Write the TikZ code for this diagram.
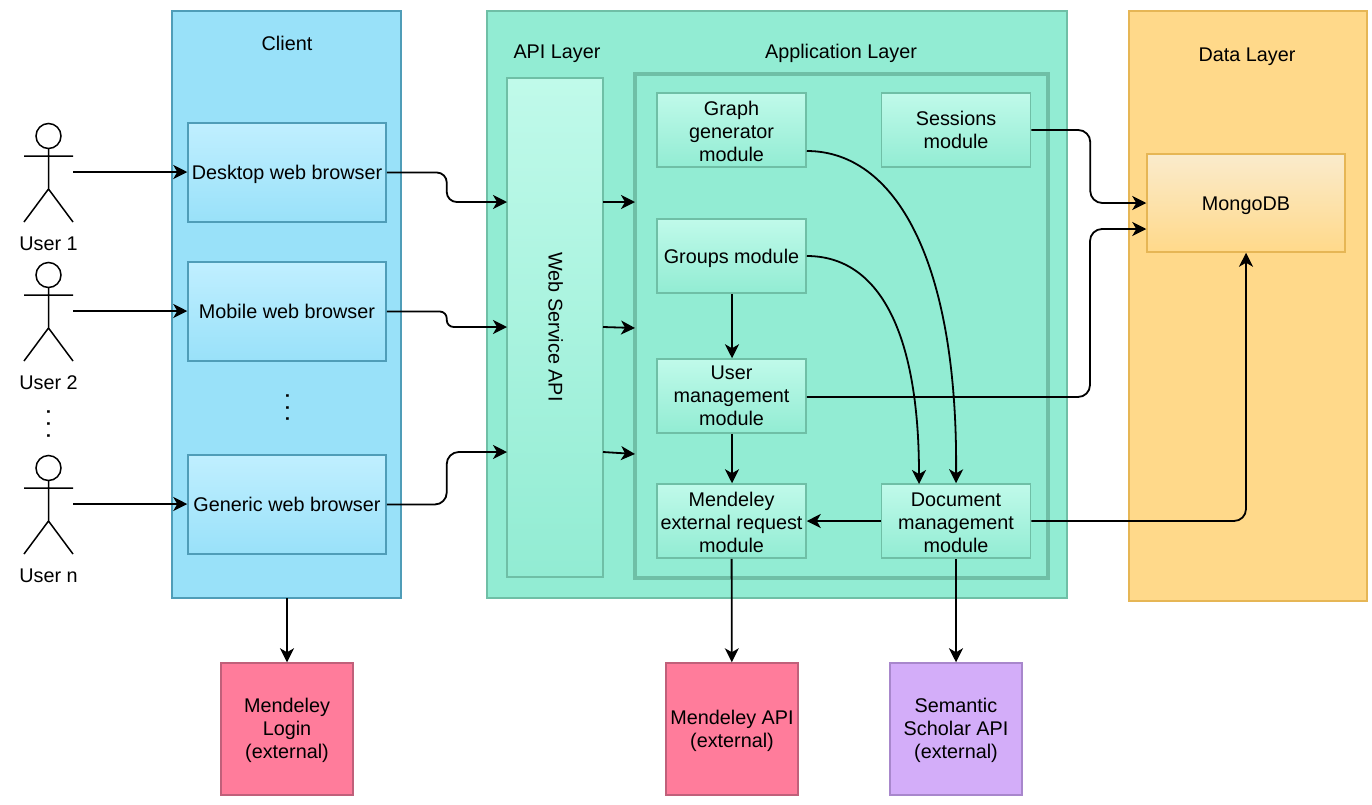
\documentclass[tikz,border=0pt]{standalone}
\usepackage{fontspec}
\setmainfont{Liberation Sans}
\usetikzlibrary{positioning,calc,arrows.meta}

\definecolor{clientfill}{HTML}{99E1F9}
\definecolor{clientline}{HTML}{4F9DB8}
\definecolor{browsertop}{HTML}{C0EFFF}
\definecolor{layerfill}{HTML}{92ECD3}
\definecolor{layerline}{HTML}{6FBFA6}
\definecolor{moduletop}{HTML}{C0FAEA}
\definecolor{datafill}{HTML}{FFD98A}
\definecolor{dataline}{HTML}{E6B655}
\definecolor{mongotop}{HTML}{FAEBCC}
\definecolor{pinkfill}{HTML}{FF7C9B}
\definecolor{pinkline}{HTML}{C0607A}
\definecolor{purplefill}{HTML}{D3ADF9}
\definecolor{purpleline}{HTML}{A887CC}

\newcommand{\linestrut}{\rule[-5pt]{0pt}{23pt}}
\newcommand{\tallstrut}{\rule[-5pt]{0pt}{27pt}}

\tikzset{
    txt/.style={font=\fontsize{19.8}{23}\selectfont, align=center, inner sep=0pt},
    oneline/.style={txt, execute at begin node=\rule[-5pt]{0pt}{#1}},
    oneline/.default=23pt,
    dotstxt/.style={font=\fontsize{18}{18}\bfseries\selectfont, inner sep=0pt, rotate=90},
    layer/.style={draw=#1, line width=1.5pt, anchor=north west, outer sep=0pt},
    browser/.style={oneline, draw=clientline, line width=1.5pt, top color=browsertop, bottom color=clientfill, minimum width=198pt, minimum height=99pt},
    module/.style={txt, draw=layerline, line width=1.5pt, top color=moduletop, bottom color=layerfill, minimum width=149pt, minimum height=74pt},
    ext/.style={txt, draw=#1, line width=1.5pt, minimum width=132pt, minimum height=132pt},
    conn/.style={-{Stealth[length=14pt,width=14pt,inset=4pt]}, line width=1.8pt, black},
    elbow/.style={conn, rounded corners=12pt},
    actor/.style={minimum width=49pt, minimum height=99pt, inner sep=0pt}
}

\begin{document}
\begin{tikzpicture}[x=1pt, y=-1pt]
    \useasboundingbox (0,0) rectangle (1372,804);

    % Layers
    \node[layer=clientline, fill=clientfill, minimum width=229pt, minimum height=587pt] (client) at (172,11) {};
    \node[layer=layerline, fill=layerfill, minimum width=580pt, minimum height=587pt] (middle) at (487,11) {};
    \node[layer=dataline, fill=datafill, minimum width=238pt, minimum height=590pt] (data) at (1129,11) {};
    \node[layer=layerline, line width=3.5pt, minimum width=413pt, minimum height=504pt] (applayer) at (635,74) {};

    \node[oneline] (clienttitle) at (287,43.5) {Client};
    \node[oneline] (apititle) at (557,52) {API Layer};
    \node[oneline] (apptitle) at (841,52) {Application Layer};
    \node[oneline] (datatitle) at (1247,55) {Data Layer};

    % Browsers
    \node[browser] (desktop) at (287,172.5) {Desktop web browser};
    \node[browser] (mobile) at (287,311.5) {Mobile web browser};
    \node[browser] (generic) at (287,504.5) {Generic web browser};
    \node[dotstxt] (dotsclient) at (287.5,407.5) {. . .};

    % Users
    \foreach \name/\yc/\lab in {user1/172/User 1, user2/311/User 2, usern/504/User n} {
        \node[actor] (\name) at (48.5,\yc) {};
        \draw[line width=1.5pt] (48.5,\yc-36) circle (12.5pt);
        \draw[line width=1.5pt] (48.5,\yc-23.5) -- (48.5,\yc+17) (24,\yc-16) -- (73,\yc-16)
            (24,\yc+50) -- (48.5,\yc+17) -- (73,\yc+50);
        \node[oneline, below=11pt of \name] (\name label) {\lab};
    }
    \node[dotstxt] (dotsusers) at (48.5,424) {. . .};

    % API and modules
    \node[layer=layerline, top color=moduletop, bottom color=layerfill, minimum width=96pt, minimum height=499pt] (api) at (507,78) {};
    \node[oneline, rotate=-90] (apilabel) at (555,327) {Web Service API};

    \node[module] (graph) at (731.5,130) {\tallstrut Graph\\generator\\module\linestrut};
    \node[module] (sessions) at (956,130) {\linestrut Sessions\\module\linestrut};
    \node[module, oneline=25pt] (groups) at (731.5,256) {Groups module};
    \node[module] (user) at (731.5,396) {\linestrut User\\management\\module\linestrut};
    \node[module] (request) at (731.5,521) {\tallstrut Mendeley\\external request\\module\linestrut};
    \node[module] (document) at (956,521) {\tallstrut Document\\management\\module\linestrut};

    % Data
    \node[oneline=25pt, draw=dataline, line width=1.5pt, top color=mongotop, bottom color=datafill, minimum width=198pt, minimum height=98pt] (mongo) at (1246,203) {MongoDB};

    % External
    \node[ext=pinkline, fill=pinkfill] (login) at (287,729) {\linestrut Mendeley\\Login\\(external)\linestrut};
    \node[ext=pinkline, fill=pinkfill] (mendeleyapi) at (732,729) {\linestrut Mendeley API\\(external)\linestrut};
    \node[ext=purpleline, fill=purplefill] (semantic) at (956,729) {\linestrut Semantic\\Scholar API\\(external)\linestrut};

    % Users to browsers
    \draw[conn] (user1.east) -- (user1.east -| desktop.west);
    \draw[conn] (user2.east) -- (user2.east -| mobile.west);
    \draw[conn] (usern.east) -- (usern.east -| generic.west);

    % Browsers to API
    \coordinate (apiA) at (api.west |- 0,202);
    \coordinate (apiB) at (api.west |- 0,327);
    \coordinate (apiC) at (api.west |- 0,452);
    \draw[elbow, rounded corners=10pt] (desktop.east) -- ++(60,0) |- (apiA);
    \draw[elbow, rounded corners=7pt] (mobile.east) -- ++(60,0) |- (apiB);
    \draw[elbow] (generic.east) -- ++(60,0) |- (apiC);

    % API to application layer
    \foreach \src/\dst in {202/202, 327/328, 452/454}
        \draw[conn] (api.east |- 0,\src) -- (applayer.west |- 0,\dst);

    % Between modules
    \coordinate (modcol) at (732,0);
    \draw[conn] (groups.south -| modcol) -- (user.north -| modcol);
    \draw[conn] (user.south -| modcol) -- (request.north -| modcol);
    \draw[conn] (document) -- (request);
    \draw[conn] (graph.east |- 0,151) .. controls (895,151) and (958,260) .. (document.north);
    \draw[conn] (groups.east) .. controls (878,256) and (919,330) .. (919,484);

    % To the data layer
    \coordinate (mongoA) at (mongo.west |- 0,203);
    \coordinate (mongoB) at (mongo.west |- 0,229);
    \draw[elbow] (sessions.east) -- ++(59,0) |- (mongoA);
    \draw[elbow] (user.east |- 0,397) -- (1090,397) |- (mongoB);
    \draw[elbow] (document.east) -| (mongo.south);

    % External services
    \draw[conn] (client.south -| login) -- (login);
    \draw[conn] (request) -- (mendeleyapi);
    \draw[conn] (document) -- (semantic);
\end{tikzpicture}
\end{document}
